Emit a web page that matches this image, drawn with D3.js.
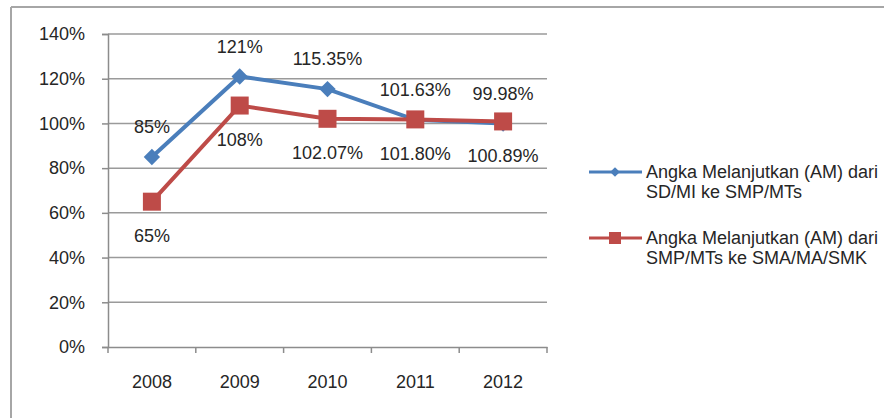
<!DOCTYPE html>
<html>
<head>
<meta charset="utf-8">
<script src="https://cdn.jsdelivr.net/npm/d3@7"></script>
<style>
  body { margin: 0; background: #fff; }
  svg text { font-family: "Liberation Sans", Arial, sans-serif; fill: #262626; }
</style>
</head>
<body>
<svg width="884" height="418"></svg>
<script>
var years = ["2008", "2009", "2010", "2011", "2012"];
var smpValues = [85, 121, 115.35, 101.63, 99.98];
var smaValues = [65, 108, 102.07, 101.80, 100.89];
var smpLabels = ["85%", "121%", "115.35%", "101.63%", "99.98%"];
var smaLabels = ["65%", "108%", "102.07%", "101.80%", "100.89%"];
var yTicks = [0, 20, 40, 60, 80, 100, 120, 140];
var legendNames = [
  ["Angka Melanjutkan (AM) dari", "SD/MI ke SMP/MTs"],
  ["Angka Melanjutkan (AM) dari", "SMP/MTs ke SMA/MA/SMK"]
];

var blue = "#4a7ebb", red = "#be4b48";
var fs = "18px";

var svg = d3.select("svg");

// outer frame (top and left edges only visible)
svg.append("line").attr("x1", 11).attr("x2", 884).attr("y1", 7).attr("y2", 7)
   .attr("stroke", "#a6a6a6").attr("stroke-width", 2);
svg.append("line").attr("x1", 11).attr("x2", 11).attr("y1", 7).attr("y2", 418)
   .attr("stroke", "#a6a6a6").attr("stroke-width", 2);

var x = d3.scaleBand().domain(years).range([108, 547]);
var y = d3.scaleLinear().domain([0, 140]).range([347, 34]);

var g = svg.append("g");

// gridlines
g.selectAll(".grid")
 .data(yTicks.filter(function(d) { return d > 0; }))
 .enter().append("line")
 .attr("x1", 108).attr("x2", 547)
 .attr("y1", function(d) { return y(d); })
 .attr("y2", function(d) { return y(d); })
 .attr("stroke", "#9a9a9a").attr("stroke-width", 1.5);

// y axis
var yAxis = g.append("g")
  .attr("transform", "translate(108,0)")
  .call(d3.axisLeft(y).tickValues(yTicks).tickSize(6).tickPadding(17)
        .tickFormat(function(d) { return d + "%"; }));
yAxis.selectAll("text").style("font-size", fs).attr("fill", "#262626");
yAxis.selectAll("line").attr("stroke", "#8c8c8c").attr("stroke-width", 1.5);
yAxis.select(".domain").attr("stroke", "#8c8c8c").attr("stroke-width", 1.5);

// x axis
var xAxis = g.append("g")
  .attr("transform", "translate(0,347)")
  .call(d3.axisBottom(x).tickSize(0).tickPadding(28));
xAxis.selectAll("text").style("font-size", fs).attr("fill", "#262626");
xAxis.select(".domain").attr("stroke", "#8c8c8c").attr("stroke-width", 1.5);
// tick marks between categories
g.selectAll(".xtick")
 .data(years.concat(["end"]))
 .enter().append("line")
 .attr("x1", function(d, i) { return i < years.length ? x(d) : x.range()[1]; })
 .attr("x2", function(d, i) { return i < years.length ? x(d) : x.range()[1]; })
 .attr("y1", 347).attr("y2", 353)
 .attr("stroke", "#8c8c8c").attr("stroke-width", 1.5);

var cx = function(d, i) { return x(years[i]) + x.bandwidth() / 2; };
var line = d3.line().x(function(d, i) { return cx(d, i); }).y(function(d) { return y(d); });

// blue series
g.append("path").datum(smpValues).attr("d", line)
 .attr("fill", "none").attr("stroke", blue).attr("stroke-width", 4);
g.selectAll(".dia")
 .data(smpValues)
 .enter().append("path")
 .attr("d", d3.symbol().type(d3.symbolDiamond2).size(170))
 .attr("transform", function(d, i) { return "translate(" + cx(d, i) + "," + y(d) + ")"; })
 .attr("fill", blue);

// red series
g.append("path").datum(smaValues).attr("d", line)
 .attr("fill", "none").attr("stroke", red).attr("stroke-width", 4);
g.selectAll(".sq")
 .data(smaValues)
 .enter().append("rect")
 .attr("x", function(d, i) { return cx(d, i) - 9; })
 .attr("y", function(d) { return y(d) - 9; })
 .attr("width", 18).attr("height", 18)
 .attr("fill", red);

// data labels
g.selectAll(".lblA")
 .data(smpValues)
 .enter().append("text")
 .attr("x", function(d, i) { return cx(d, i); })
 .attr("y", function(d) { return y(d) - 30; })
 .attr("dy", "0.35em")
 .attr("text-anchor", "middle")
 .style("font-size", fs)
 .text(function(d, i) { return smpLabels[i]; });

g.selectAll(".lblB")
 .data(smaValues)
 .enter().append("text")
 .attr("x", function(d, i) { return cx(d, i); })
 .attr("y", function(d) { return y(d) + 34; })
 .attr("dy", "0.35em")
 .attr("text-anchor", "middle")
 .style("font-size", fs)
 .text(function(d, i) { return smaLabels[i]; });

// legend
var legend = svg.append("g");
var legendY = [172, 238];
var colors = [blue, red];
legendNames.forEach(function(names, i) {
  var ly = legendY[i];
  legend.append("line").attr("x1", 589).attr("x2", 642).attr("y1", ly).attr("y2", ly)
        .attr("stroke", colors[i]).attr("stroke-width", 3);
  if (i === 0) {
    legend.append("path").attr("d", d3.symbol().type(d3.symbolDiamond2).size(60))
          .attr("transform", "translate(615," + ly + ")").attr("fill", blue);
  } else {
    legend.append("rect").attr("x", 609).attr("y", ly - 6).attr("width", 12).attr("height", 12)
          .attr("fill", red);
  }
  names.forEach(function(t, j) {
    legend.append("text").attr("x", 646).attr("y", ly + j * 20).attr("dy", "0.35em")
          .style("font-size", fs).text(t);
  });
});
</script>
</body>
</html>
